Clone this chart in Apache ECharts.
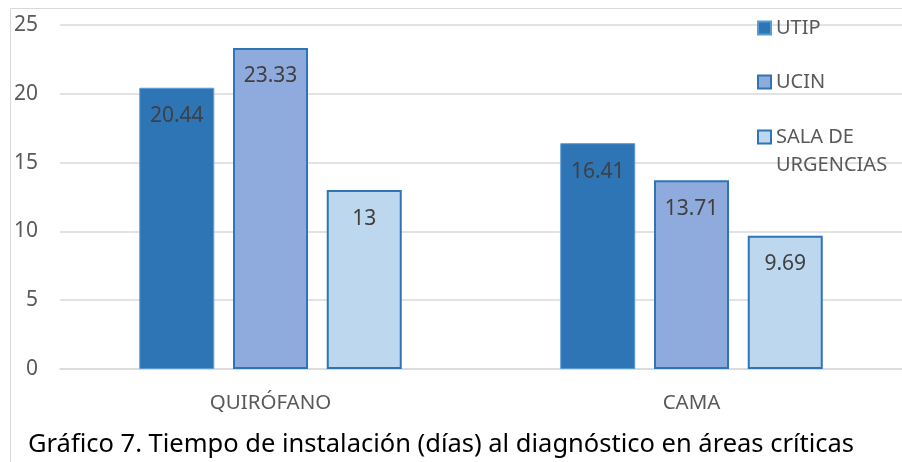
<!DOCTYPE html>
<html>
<head>
<meta charset="utf-8">
<script src="https://cdn.jsdelivr.net/npm/echarts@6/dist/echarts.min.js"></script>
<style>
  html, body { margin: 0; padding: 0; background: #fff; }
  #chart { width: 902px; height: 462px; }
</style>
</head>
<body>
<div id="chart"></div>
<script>
// datos del gráfico
var areas = ['QUIRÓFANO', 'CAMA'];
var utip = [20.44, 16.41];
var ucin = [23.33, 13.71];
var salaUrgencias = [13, 9.69];
var yTicks = [0, 5, 10, 15, 20, 25];

var FONT = '"Noto Sans", sans-serif';
var chart = echarts.init(document.getElementById('chart'));

var labelStyle = {
  show: true,
  position: 'insideTop',
  distance: 18,
  color: '#404040',
  fontSize: 21,
  fontFamily: FONT
};

var legendText = { color: '#595959', fontSize: 20, fontFamily: FONT, lineHeight: 28 };

var option = {
  animation: false,
  textStyle: { fontFamily: FONT },
  grid: { left: 60, right: -6, top: 25, bottom: 93 },
  graphic: [
    {
      type: 'rect',
      shape: { x: 10.5, y: 8.5, width: 1000, height: 1000 },
      style: { fill: 'none', stroke: '#D9D9D9', lineWidth: 1 },
      z: -1
    },
    {
      type: 'text',
      x: 28,
      y: 445,
      style: {
        text: 'Gráfico 7. Tiempo de instalación (días) al diagnóstico en áreas críticas',
        fill: '#000',
        fontSize: 25.5,
        fontFamily: FONT,
        verticalAlign: 'middle'
      }
    }
  ],
  legend: [
    { data: ['UTIP'], left: 752, top: 9, icon: 'rect', itemWidth: 13, itemHeight: 13, textStyle: legendText },
    { data: ['UCIN'], left: 752, top: 63, icon: 'rect', itemWidth: 13, itemHeight: 13, textStyle: legendText },
    {
      data: ['SALA DE URGENCIAS'],
      left: 752, top: 90, icon: 'rect', itemWidth: 13, itemHeight: 13,
      textStyle: legendText,
      // línea vacía arriba para que el cuadro quede junto a la primera línea
      formatter: function (n) { return ' \n' + n.replace(' URGENCIAS', '\nURGENCIAS'); }
    }
  ],
  xAxis: {
    type: 'category',
    data: areas,
    axisLine: { show: true, lineStyle: { color: '#D9D9D9', width: 1.5 } },
    axisTick: { show: false },
    axisLabel: { color: '#595959', fontSize: 20.5, margin: 24, fontFamily: FONT }
  },
  yAxis: {
    type: 'value',
    min: yTicks[0],
    max: yTicks[yTicks.length - 1],
    interval: 5,
    axisLine: { show: false },
    axisTick: { show: false },
    axisLabel: { color: '#595959', fontSize: 21, margin: 22, fontFamily: FONT },
    splitLine: { lineStyle: { color: '#D9D9D9', width: 1.5 } }
  },
  series: [
    {
      name: 'UTIP', type: 'bar', data: utip,
      barWidth: 75, barGap: '25%', barCategoryGap: '38%',
      itemStyle: { color: '#2E75B6', borderColor: '#5B9BD5', borderWidth: 1 },
      label: labelStyle
    },
    {
      name: 'UCIN', type: 'bar', data: ucin,
      barWidth: 75,
      itemStyle: { color: '#8FAADC', borderColor: '#2E75B6', borderWidth: 2 },
      label: labelStyle
    },
    {
      name: 'SALA DE URGENCIAS', type: 'bar', data: salaUrgencias,
      barWidth: 75,
      itemStyle: { color: '#BDD7EE', borderColor: '#2E75B6', borderWidth: 2 },
      label: labelStyle
    }
  ]
};

chart.setOption(option);
</script>
</body>
</html>
